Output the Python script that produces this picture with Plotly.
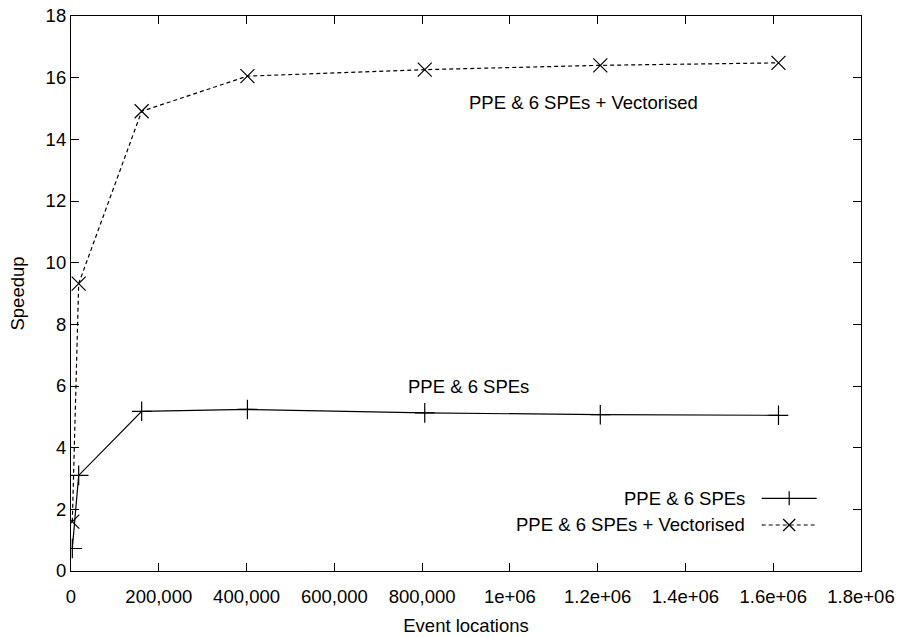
import plotly.graph_objects as go

# Data
event_locations = [3000, 17500, 161000, 402000, 806000, 1206000, 1612000]
speedup_spes = [0.73, 3.10, 5.18, 5.24, 5.13, 5.07, 5.05]
speedup_vect = [1.60, 9.32, 14.91, 16.05, 16.26, 16.40, 16.48]

x_tickvals = [0, 200000, 400000, 600000, 800000, 1000000, 1200000, 1400000, 1600000, 1800000]
x_ticktext = ["0", "200,000", "400,000", "600,000", "800,000", "1e+06", "1.2e+06", "1.4e+06", "1.6e+06", "1.8e+06"]
y_tickvals = [0, 2, 4, 6, 8, 10, 12, 14, 16, 18]

name_a = "PPE & 6 SPEs"
name_b = "PPE & 6 SPEs + Vectorised"

FONT = "Liberation Sans, Arial, Helvetica, sans-serif"
FS = 18.5

fig = go.Figure()
fig.add_trace(go.Scatter(
    x=event_locations, y=speedup_spes, mode="lines+markers", name=name_a,
    line=dict(color="black", width=1.2),
    marker=dict(symbol="cross-thin-open", size=14, line=dict(color="black", width=1.2)),
    showlegend=False,
))
fig.add_trace(go.Scatter(
    x=event_locations, y=speedup_vect, mode="lines+markers", name=name_b,
    line=dict(color="black", width=1.2, dash="4px,3px"),
    marker=dict(symbol="x-thin-open", size=14, line=dict(color="black", width=1.2)),
    showlegend=False,
))

annotations = [
    dict(x=1167000, y=15.18, xref="x", yref="y", text=name_b, showarrow=False,
         font=dict(family=FONT, size=FS, color="black")),
    dict(x=906000, y=5.97, xref="x", yref="y", text=name_a, showarrow=False,
         font=dict(family=FONT, size=FS, color="black")),
    # custom legend (gnuplot style: text on left, sample on right)
    dict(x=0.8553, y=0.131, xref="paper", yref="paper", text=name_a, showarrow=False,
         xanchor="right", yanchor="middle", font=dict(family=FONT, size=FS, color="black")),
    dict(x=0.8553, y=0.0829, xref="paper", yref="paper", text=name_b, showarrow=False,
         xanchor="right", yanchor="middle", font=dict(family=FONT, size=FS, color="black")),
]

shapes = [
    dict(type="line", xref="paper", yref="paper", x0=0.8743, x1=0.9439, y0=0.131, y1=0.131,
         line=dict(color="black", width=1.2)),
    dict(type="line", xref="paper", yref="paper", x0=0.8743, x1=0.9439, y0=0.0829, y1=0.0829,
         line=dict(color="black", width=1.2, dash="4px,3px")),
    # legend "+" marker
    dict(type="line", xref="paper", yref="paper", xsizemode="pixel", ysizemode="pixel",
         xanchor=0.9091, yanchor=0.131, x0=0, x1=0, y0=-7, y1=7, line=dict(color="black", width=1.2)),
    # legend "x" marker
    dict(type="line", xref="paper", yref="paper", xsizemode="pixel", ysizemode="pixel",
         xanchor=0.9091, yanchor=0.0829, x0=-6, x1=6, y0=-6, y1=6, line=dict(color="black", width=1.2)),
    dict(type="line", xref="paper", yref="paper", xsizemode="pixel", ysizemode="pixel",
         xanchor=0.9091, yanchor=0.0829, x0=-6, x1=6, y0=6, y1=-6, line=dict(color="black", width=1.2)),
]

fig.update_layout(
    width=901, height=638,
    margin=dict(l=71, r=40, t=16, b=67, autoexpand=False),
    paper_bgcolor="white", plot_bgcolor="white",
    font=dict(family=FONT, size=FS, color="black"),
    annotations=annotations, shapes=shapes,
    showlegend=False,
)
fig.update_xaxes(
    range=[0, 1800000], tickvals=x_tickvals, ticktext=x_ticktext, automargin=False,
    showgrid=False, zeroline=False, showline=True, linecolor="black", linewidth=1.2, mirror="ticks",
    ticks="inside", ticklen=8, tickcolor="black", tickwidth=1.2, ticklabelstandoff=9,
    title=dict(text="Event locations", font=dict(family=FONT, size=FS), standoff=12),
    tickfont=dict(family=FONT, size=FS),
)
fig.update_yaxes(
    range=[0, 18], tickvals=y_tickvals, automargin=False,
    showgrid=False, zeroline=False, showline=True, linecolor="black", linewidth=1.2, mirror="ticks",
    ticks="inside", ticklen=8, tickcolor="black", tickwidth=1.2,
    title=dict(text="Speedup", font=dict(family=FONT, size=FS), standoff=16),
    tickfont=dict(family=FONT, size=FS),
)

fig.write_html(
    "out.html",
    config={"displayModeBar": False},
    post_script="document.body.style.margin='0';document.body.style.padding='0';document.body.style.overflow='hidden';",
)
